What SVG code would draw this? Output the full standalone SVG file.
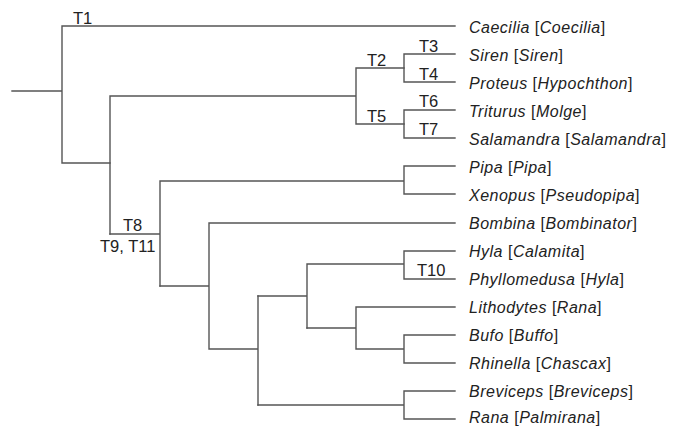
<svg xmlns="http://www.w3.org/2000/svg" width="673" height="426" viewBox="0 0 673 426">
<style>
.e{fill:none;stroke:#555;stroke-width:1.4;stroke-linecap:square}
.t{font-family:"Liberation Sans",Arial,sans-serif;font-size:16.5px;fill:#222}
.l{font-family:"Liberation Sans",Arial,sans-serif;font-size:16px;letter-spacing:0.5px;fill:#222}
.i{font-style:italic}
</style>
<rect width="673" height="426" fill="#fff"/>
<g id="connectors">
<path class="e" d="M12 91H62M62 26V163M62 26H455M62 163H110"/>
<path class="e" d="M110 96V234M110 96H356M356 68V124M356 68H404M356 124H404"/>
<path class="e" d="M404 54V82M404 54H455M404 82H455M404 110V138M404 110H455M404 138H455"/>
<path class="e" d="M110 234H160M160 181V286M160 181H404M404 166V194M404 166H455M404 194H455"/>
<path class="e" d="M160 286H209M209 223V349M209 223H455M209 349H258M258 296V405"/>
<path class="e" d="M258 296H307M307 264V328M307 264H404M404 251V279M404 251H455M404 279H455"/>
<path class="e" d="M307 328H356M356 307V349M356 307H455M356 349H404M404 335V363M404 335H455M404 363H455"/>
<path class="e" d="M258 405H404M404 391V419M404 391H455M404 419H455"/>
</g>
<g id="node-labels">
<text class="t" x="73" y="24">T1</text>
<text class="t" x="367" y="66">T2</text>
<text class="t" x="419" y="52">T3</text>
<text class="t" x="419" y="80">T4</text>
<text class="t" x="367" y="122">T5</text>
<text class="t" x="419" y="107">T6</text>
<text class="t" x="419" y="135">T7</text>
<text class="t" x="123" y="231">T8</text>
<text class="t" x="100" y="252">T9, T11</text>
<text class="t" x="417" y="276">T10</text>
</g>
<g id="leaf-caecilia"><text class="l" x="469" y="32.5"><tspan class="i">Caecilia</tspan> [<tspan class="i">Coecilia</tspan>]</text></g>
<g id="leaf-siren"><text class="l" x="469" y="60.5"><tspan class="i">Siren</tspan> [<tspan class="i">Siren</tspan>]</text></g>
<g id="leaf-proteus"><text class="l" x="469" y="88.5"><tspan class="i">Proteus</tspan> [<tspan class="i">Hypochthon</tspan>]</text></g>
<g id="leaf-triturus"><text class="l" x="469" y="116.5"><tspan class="i">Triturus</tspan> [<tspan class="i">Molge</tspan>]</text></g>
<g id="leaf-salamandra"><text class="l" x="469" y="144.5"><tspan class="i">Salamandra</tspan> [<tspan class="i">Salamandra</tspan>]</text></g>
<g id="leaf-pipa"><text class="l" x="469" y="172.5"><tspan class="i">Pipa</tspan> [<tspan class="i">Pipa</tspan>]</text></g>
<g id="leaf-xenopus"><text class="l" x="469" y="200.5"><tspan class="i">Xenopus</tspan> [<tspan class="i">Pseudopipa</tspan>]</text></g>
<g id="leaf-bombina"><text class="l" x="469" y="228.5"><tspan class="i">Bombina</tspan> [<tspan class="i">Bombinator</tspan>]</text></g>
<g id="leaf-hyla"><text class="l" x="469" y="256.5"><tspan class="i">Hyla</tspan> [<tspan class="i">Calamita</tspan>]</text></g>
<g id="leaf-phyllomedusa"><text class="l" x="469" y="284.5"><tspan class="i">Phyllomedusa</tspan> [<tspan class="i">Hyla</tspan>]</text></g>
<g id="leaf-lithodytes"><text class="l" x="469" y="312.5"><tspan class="i">Lithodytes</tspan> [<tspan class="i">Rana</tspan>]</text></g>
<g id="leaf-bufo"><text class="l" x="469" y="340.5"><tspan class="i">Bufo</tspan> [<tspan class="i">Buffo</tspan>]</text></g>
<g id="leaf-rhinella"><text class="l" x="469" y="368.5"><tspan class="i">Rhinella</tspan> [<tspan class="i">Chascax</tspan>]</text></g>
<g id="leaf-breviceps"><text class="l" x="469" y="396.5"><tspan class="i">Breviceps</tspan> [<tspan class="i">Breviceps</tspan>]</text></g>
<g id="leaf-rana"><text class="l" x="469" y="422.5"><tspan class="i">Rana</tspan> [<tspan class="i">Palmirana</tspan>]</text></g>
</svg>
